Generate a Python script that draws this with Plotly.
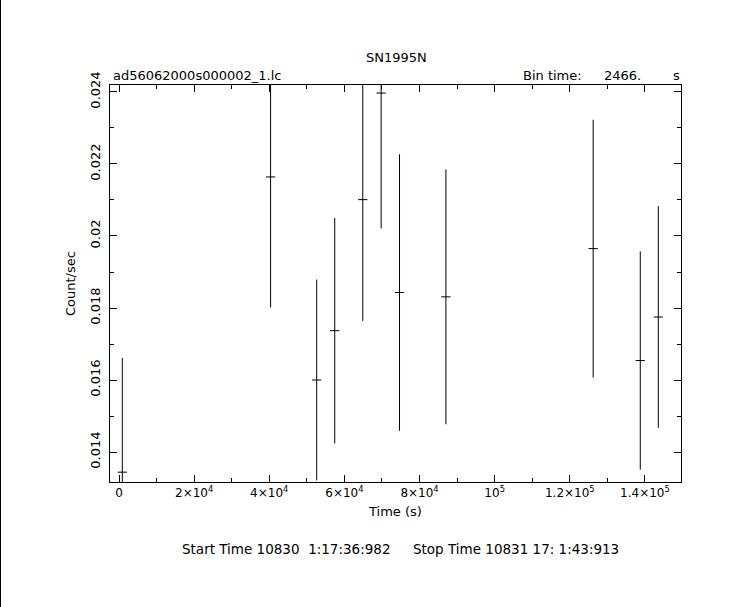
import plotly.graph_objects as go

# ---- data ----
time_s = [880, 40350, 52620, 57420, 64890, 69780, 74670, 87020, 126220, 138760, 143560]
rate = [0.01344, 0.02164, 0.01600, 0.01737, 0.02101, 0.02397, 0.01843, 0.01831, 0.01965, 0.01654, 0.01775]
rate_err = [0.00317, 0.00362, 0.00279, 0.00313, 0.00337, 0.00376, 0.00384, 0.00354, 0.00358, 0.00303, 0.00308]
bin_time = 2466.0
half_bin = [bin_time / 2] * len(time_s)

x_tickvals = [0, 20000, 40000, 60000, 80000, 100000, 120000, 140000]
x_ticktext = ["0", "2×10<sup>4</sup>", "4×10<sup>4</sup>", "6×10<sup>4</sup>", "8×10<sup>4</sup>",
              "10<sup>5</sup>", "1.2×10<sup>5</sup>", "1.4×10<sup>5</sup>"]
y_tickvals = [0.014, 0.016, 0.018, 0.020, 0.022, 0.024]
y_ticktext = ["0.014", "0.016", "0.018", "0.02", "0.022", "0.024"]

FONT = "DejaVu Sans"
W, H = 743, 607
L, R, T, B = 110, 62, 85, 125
PW, PH = W - L - R, H - T - B


def px(xp):
    return (xp - L) / PW


def py(yp):
    return 1 - (yp - T) / PH


fig = go.Figure()
fig.add_trace(go.Scatter(
    x=time_s, y=rate, mode="markers",
    marker=dict(size=0.1, color="black", opacity=0),
    error_x=dict(type="data", array=half_bin, symmetric=True, width=0, thickness=1, color="black"),
    error_y=dict(type="data", array=rate_err, symmetric=True, width=0, thickness=1, color="black"),
    showlegend=False, hoverinfo="skip",
))

axis_common = dict(
    showline=True, linecolor="black", linewidth=1, mirror="allticks",
    ticks="inside", ticklen=7, tickcolor="black", tickwidth=1,
    showgrid=False, zeroline=False,
)

fig.update_xaxes(
    range=[-2400, 149600], tickmode="array", tickvals=x_tickvals, ticktext=x_ticktext,
    tickfont=dict(family=FONT, size=12, color="black"),
    minor=dict(dtick=10000, tick0=0, ticks="inside", ticklen=4, tickcolor="black", showgrid=False),
    **axis_common,
)
fig.update_yaxes(
    range=[0.013167, 0.024194], tickmode="array", tickvals=y_tickvals, ticktext=y_ticktext,
    tickangle=-90, tickfont=dict(family=FONT, size=13, color="black"), ticklabelstandoff=4,
    minor=dict(dtick=0.001, tick0=0.014, ticks="inside", ticklen=4, tickcolor="black", showgrid=False),
    **axis_common,
)

ann = [
    dict(text="SN1995N", x=px(396), y=py(57), xanchor="center", yanchor="middle", size=13),
    dict(text="ad56062000s000002_1.lc", x=px(111), y=py(75), xanchor="left", yanchor="middle", size=13),
    dict(text="Bin time:", x=px(521), y=py(75), xanchor="left", yanchor="middle", size=13),
    dict(text="2466.", x=px(643), y=py(75), xanchor="right", yanchor="middle", size=13),
    dict(text="s", x=px(682), y=py(75), xanchor="right", yanchor="middle", size=13),
    dict(text="Time (s)", x=px(395), y=py(511), xanchor="center", yanchor="middle", size=13),
    dict(text="Start Time 10830  1:17:36:982", x=px(180), y=py(549), xanchor="left", yanchor="middle", size=13.5),
    dict(text="Stop Time 10831 17: 1:43:913", x=px(411), y=py(549), xanchor="left", yanchor="middle", size=13.5),
]
annotations = []
for a in ann:
    annotations.append(dict(
        text=a["text"].replace("  ", "\u00a0\u00a0"), x=a["x"], y=a["y"], xref="paper", yref="paper",
        xanchor=a["xanchor"], yanchor=a["yanchor"], showarrow=False,
        font=dict(family=FONT, size=a["size"], color="black"),
    ))
annotations.append(dict(
    text="Count/sec", x=px(70), y=py(284), xref="paper", yref="paper",
    xanchor="center", yanchor="middle", showarrow=False, textangle=-90,
    font=dict(family=FONT, size=13, color="black"),
))

fig.update_layout(
    width=W, height=H,
    margin=dict(l=L, r=R, t=T, b=B, pad=0),
    paper_bgcolor="white", plot_bgcolor="white",
    annotations=annotations,
    shapes=[dict(type="line", xref="paper", yref="paper", x0=px(0.5), x1=px(0.5), y0=py(0), y1=py(H),
                 line=dict(color="black", width=1))],
    showlegend=False,
)

fig.write_html(
    "out.html",
    config={"displayModeBar": False},
    post_script="document.body.style.margin='0';document.body.style.overflow='hidden';",
)
